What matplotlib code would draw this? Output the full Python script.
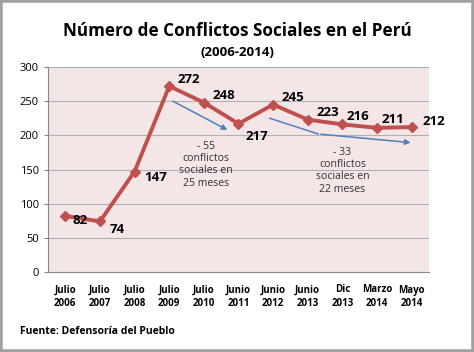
import matplotlib.pyplot as plt
from matplotlib.patches import Rectangle

# categories and values
periods = ["Julio\n2006", "Julio\n2007", "Julio\n2008", "Julio\n2009", "Julio\n2010",
           "Junio\n2011", "Junio\n2012", "Junio\n2013", "Dic\n2013", "Marzo\n2014", "Mayo\n2014"]
conflicts = [82, 74, 147, 272, 248, 217, 245, 223, 216, 211, 212]

red = "#c0504d"
blue = "#4f81bd"

plt.rcParams['font.family'] = ['Open Sans', 'DejaVu Sans']

fig = plt.figure(figsize=(4.74, 3.52), dpi=100)
ax = fig.add_axes([48/474, 1 - 272/352, 381/474, 205/352])

x = list(range(len(conflicts)))
ax.plot(x, conflicts, color=red, lw=2.8, marker="D", markersize=5, zorder=3)

# value labels: (dx, dy) offsets in points
offsets = [(5, -3), (7, -6), (7, -4), (6, 5), (6, 5), (5, -9), (6, 5), (6, 5), (3, 6), (3, 6), (8, 4)]
for xi, v, (dx, dy) in zip(x, conflicts, offsets):
    ax.annotate(str(v), (xi, v), xytext=(dx, dy), textcoords="offset points",
                fontsize=9.5, fontweight="bold", va="center", ha="left")

# trend arrows
ax.annotate("", xy=(4.75, 206), xytext=(3.03, 252),
            arrowprops=dict(arrowstyle="-|>", color=blue, lw=1.1, mutation_scale=8))
ax.plot([5.9, 7.3], [225, 202], color=blue, lw=1.1)
ax.annotate("", xy=(10.05, 189), xytext=(7.3, 202),
            arrowprops=dict(arrowstyle="-|>", color=blue, lw=1.1, mutation_scale=8))

ax.text(4.05, 157, "- 55\nconflictos\nsociales en\n25 meses", ha="center", va="center",
        fontsize=7.6, linespacing=1.15, color="#333333")
ax.text(8.0, 148, "- 33\nconflictos\nsociales en\n22 meses", ha="center", va="center",
        fontsize=7.6, linespacing=1.15, color="#333333")

ax.set_xlim(-0.5, len(conflicts) - 0.5)
ax.set_ylim(0, 300)
ax.set_yticks(range(0, 301, 50))
ax.set_xticks(x)
ax.set_xticklabels(periods, fontsize=7, fontweight="bold", linespacing=1.35)
ax.tick_params(axis="y", labelsize=8, length=3, color="#888888")
ax.tick_params(axis="x", length=0, pad=9)
ax.set_facecolor("#f4e6e6")
ax.grid(axis="y", color="#b0b0b0", lw=0.8)
ax.set_axisbelow(True)
for side in ["top", "right"]:
    ax.spines[side].set_visible(False)
ax.spines["left"].set_color("#888888")
ax.spines["bottom"].set_color("#888888")

fig.text(0.5, 1 - 31/352, "Número de Conflictos Sociales en el Perú", ha="center", va="center",
         fontsize=12.3, fontweight="bold")
fig.text(0.5, 1 - 52/352, "(2006-2014)", ha="center", va="center", fontsize=9.5, fontweight="bold")
fig.text(20/474, 1 - 331/352, "Fuente: Defensoría del Pueblo", ha="left", va="center",
         fontsize=7.5, fontweight="bold")

fig.patches.append(Rectangle((0, 0), 1, 1, transform=fig.transFigure, fill=False,
                             edgecolor="#a0a0a0", lw=4))

fig.savefig("out.png", dpi=100)
